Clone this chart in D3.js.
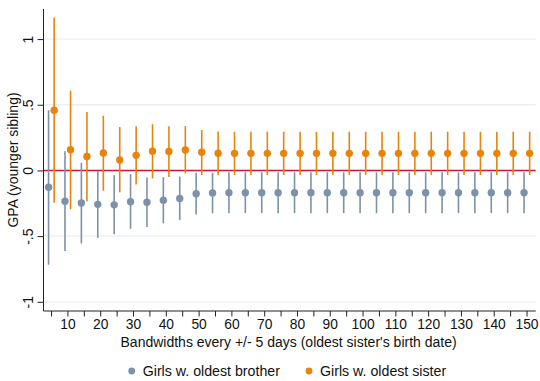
<!DOCTYPE html>
<html>
<head>
<meta charset="utf-8">
<script src="https://cdn.jsdelivr.net/npm/d3@7/dist/d3.min.js"></script>
<style>
  html, body { margin: 0; padding: 0; background: #fff; }
  svg { display: block; font-family: "Liberation Sans", Arial, sans-serif; }
</style>
</head>
<body>
<svg id="chart" width="540" height="381"></svg>
<script>
// Bandwidths (days around the oldest sister's birth date)
const bandwidths = [5,10,15,20,25,30,35,40,45,50,55,60,65,70,75,80,85,90,95,100,105,110,115,120,125,130,135,140,145,150];

// Girls with an oldest brother: point estimate and 95% CI
const brotherCoef = [-0.128,-0.235,-0.248,-0.258,-0.262,-0.238,-0.242,-0.226,-0.213,-0.177,-0.171,-0.170,-0.170,-0.170,-0.170,-0.170,-0.170,-0.170,-0.170,-0.170,-0.170,-0.170,-0.170,-0.170,-0.170,-0.170,-0.170,-0.170,-0.170,-0.170];
const brotherLo   = [-0.718,-0.614,-0.556,-0.513,-0.485,-0.444,-0.431,-0.403,-0.378,-0.335,-0.326,-0.325,-0.325,-0.325,-0.325,-0.325,-0.325,-0.325,-0.325,-0.325,-0.325,-0.325,-0.325,-0.325,-0.325,-0.325,-0.325,-0.325,-0.325,-0.325];
const brotherHi   = [0.459,0.147,0.058,-0.003,-0.036,-0.028,-0.053,-0.051,-0.047,-0.018,-0.018,-0.014,-0.014,-0.014,-0.014,-0.014,-0.014,-0.014,-0.014,-0.014,-0.014,-0.014,-0.014,-0.014,-0.014,-0.014,-0.014,-0.014,-0.014,-0.014];

// Girls with an oldest sister: point estimate and 95% CI
const sisterCoef = [0.459,0.158,0.106,0.133,0.080,0.115,0.147,0.144,0.156,0.138,0.131,0.130,0.130,0.130,0.130,0.130,0.130,0.130,0.130,0.130,0.130,0.130,0.130,0.130,0.130,0.130,0.130,0.130,0.130,0.130];
const sisterLo   = [-0.246,-0.295,-0.234,-0.155,-0.167,-0.107,-0.061,-0.049,-0.022,-0.036,-0.036,-0.035,-0.035,-0.035,-0.035,-0.035,-0.035,-0.035,-0.035,-0.035,-0.035,-0.035,-0.035,-0.035,-0.035,-0.035,-0.035,-0.035,-0.035,-0.035];
const sisterHi   = [1.165,0.606,0.444,0.416,0.330,0.337,0.352,0.337,0.338,0.308,0.297,0.295,0.295,0.295,0.295,0.295,0.295,0.295,0.295,0.295,0.295,0.295,0.295,0.295,0.295,0.295,0.295,0.295,0.295,0.295];

const yTicks = [-1, -0.5, 0, 0.5, 1];
const yTickLabels = ["-1", "-.5", "0", ".5", "1"];
const xMinorTicks = d3.range(5, 151, 5);
const xLabelTicks = d3.range(10, 151, 10);

const seriesNames = ["Girls w. oldest brother", "Girls w. oldest sister"];
const seriesColors = ["#7d92a9", "#e8830c"];

const svg = d3.select("#chart");
const plotLeft = 43.5, plotRight = 535.7, plotTop = 9, plotBottom = 311;

const x = d3.scaleLinear().domain([2.7, 152.8]).range([plotLeft, plotRight]);
const y = d3.scaleLinear().domain([-1.07, 1.229]).range([plotBottom, plotTop]);

// horizontal grid
svg.append("g").selectAll("line").data(yTicks.filter(d => d !== 0)).join("line")
  .attr("x1", plotLeft).attr("x2", plotRight)
  .attr("y1", d => y(d)).attr("y2", d => y(d))
  .attr("stroke", "#eaf0f0").attr("stroke-width", 1.3);

// zero reference line
svg.append("line")
  .attr("x1", plotLeft).attr("x2", plotRight)
  .attr("y1", y(0)).attr("y2", y(0))
  .attr("stroke", "#d5143c").attr("stroke-width", 1.4);

// series: error bars then points
const series = [
  { coef: brotherCoef, lo: brotherLo, hi: brotherHi, off: -0.75, color: seriesColors[0] },
  { coef: sisterCoef,  lo: sisterLo,  hi: sisterHi,  off: 0.95,  color: seriesColors[1] }
];

series.forEach(s => {
  const rows = bandwidths.map((b, i) => ({ b, c: s.coef[i], lo: s.lo[i], hi: s.hi[i] }));
  const g = svg.append("g");
  g.selectAll("line").data(rows).join("line")
    .attr("x1", d => x(d.b + s.off)).attr("x2", d => x(d.b + s.off))
    .attr("y1", d => y(d.lo)).attr("y2", d => y(d.hi))
    .attr("stroke", s.color).attr("stroke-width", 1.6);
  g.selectAll("circle").data(rows).join("circle")
    .attr("cx", d => x(d.b + s.off)).attr("cy", d => y(d.c))
    .attr("r", 3.7).attr("fill", s.color);
});

// y axis
const yAxis = d3.axisLeft(y).tickValues(yTicks).tickSize(6)
  .tickFormat((d, i) => yTickLabels[i]);
const gy = svg.append("g").attr("transform", `translate(${plotLeft},0)`).call(yAxis);
gy.select(".domain").attr("d", `M0,${plotTop}V${plotBottom}`).attr("stroke", "#222");
gy.selectAll(".tick line").attr("stroke", "#222");
gy.selectAll(".tick text")
  .attr("font-size", 14).attr("fill", "#111")
  .attr("x", null).attr("dy", null)
  .attr("text-anchor", "middle")
  .attr("transform", "translate(-10.5,0) rotate(-90)");

// x axis
const xAxis = d3.axisBottom(x).tickValues(xMinorTicks).tickSize(5.5)
  .tickFormat(d => xLabelTicks.includes(d) ? String(d) : "");
const gx = svg.append("g").attr("transform", `translate(0,${plotBottom})`).call(xAxis);
gx.select(".domain").attr("d", `M${plotLeft},0H${plotRight}`).attr("stroke", "#222");
gx.selectAll(".tick line").attr("stroke", "#222");
gx.selectAll(".tick text").attr("font-size", 13.8).attr("fill", "#111").attr("y", 8.5).attr("dy", "0.71em");

// axis titles
svg.append("text")
  .attr("x", (plotLeft + plotRight) / 2 - 1).attr("y", 347)
  .attr("text-anchor", "middle").attr("font-size", 14).attr("fill", "#111")
  .text("Bandwidths every +/- 5 days (oldest sister's birth date)");

svg.append("text")
  .attr("transform", `translate(17.5,${(plotTop + plotBottom) / 2}) rotate(-90)`)
  .attr("text-anchor", "middle").attr("font-size", 14).attr("fill", "#111")
  .text("GPA (younger sibling)");

// legend
const legendX = [131.7, 309];
const legend = svg.append("g").selectAll("g").data(seriesNames).join("g")
  .attr("transform", (d, i) => `translate(${legendX[i]},371)`);
legend.append("circle").attr("r", 3.4).attr("fill", (d, i) => seriesColors[i]);
legend.append("text").attr("x", 11).attr("y", 5)
  .attr("font-size", 14.2).attr("fill", "#111").text(d => d);
</script>
</body>
</html>
